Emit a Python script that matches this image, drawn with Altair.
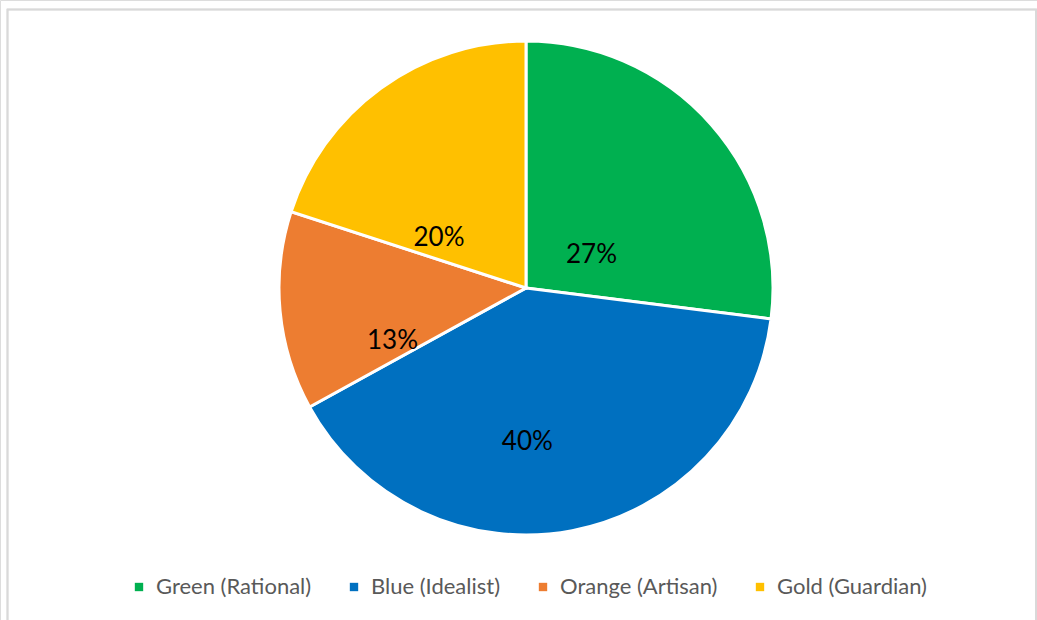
import altair as alt
import pandas as pd

categories = ["Green (Rational)", "Blue (Idealist)", "Orange (Artisan)", "Gold (Guardian)"]
values = [27, 40, 13, 20]
labels = ["27%", "40%", "13%", "20%"]
colors = ["#00B050", "#0070C0", "#ED7D31", "#FFC000"]

df = pd.DataFrame({"category": categories, "value": values, "label": labels,
                   "order": list(range(len(categories)))})

FONT = "Lato"
CX, CY = 526, 288

base = alt.Chart(df).encode(
    theta=alt.Theta("value:Q", stack=True),
    order=alt.Order("order:Q"),
)

pie = base.mark_arc(radius=247, stroke="white", strokeWidth=3).encode(
    x=alt.value(CX), y=alt.value(CY),
    color=alt.Color("category:N",
                    scale=alt.Scale(domain=categories, range=colors),
                    sort=categories,
                    legend=alt.Legend(title=None, orient="none", direction="horizontal",
                                      legendX=128, legendY=576,
                                      symbolType="square", symbolSize=70,
                                      symbolStrokeWidth=0,
                                      labelFont=FONT, labelFontSize=22,
                                      labelColor="#595959", columnPadding=31,
                                      labelOffset=6)),
)

text = base.mark_text(radius=114, dx=-20, dy=42, font=FONT, fontSize=26, color="black").encode(
    x=alt.value(CX), y=alt.value(CY),
    text="label:N",
)

frame = alt.Chart(df).mark_rect(fill=None, stroke="#d9d9d9", strokeWidth=1.5).encode(
    x=alt.value(7.5), x2=alt.value(1036), y=alt.value(9.5), y2=alt.value(650)
)

chart = alt.layer(frame, pie, text).properties(
    width=1037, height=620, padding=0, autosize="none"
).configure_view(stroke=None).configure(background="white")

chart.save("out.html", embed_options={"renderer": "svg", "actions": False})
